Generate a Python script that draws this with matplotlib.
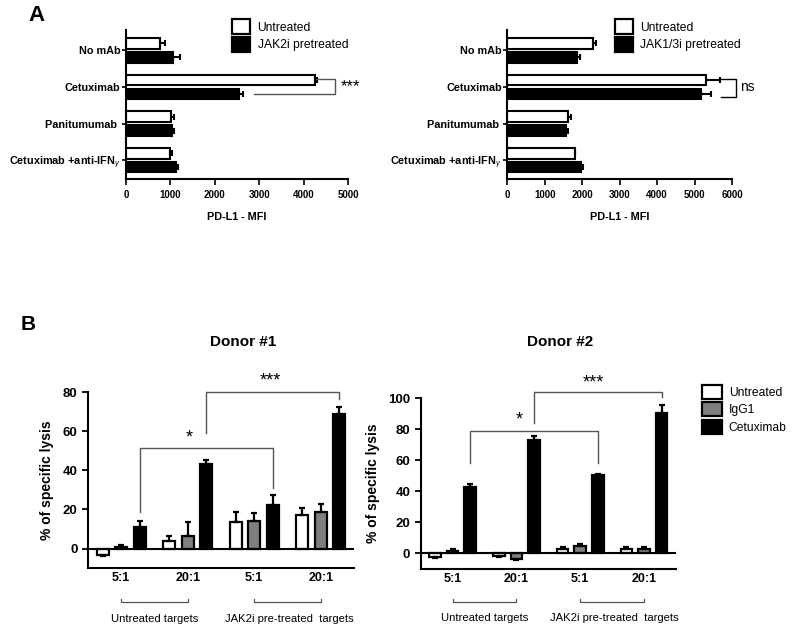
import numpy as np
import matplotlib
matplotlib.use("Agg")
import matplotlib.pyplot as plt
import matplotlib.transforms as mtransforms

plt.rcParams['font.family'] = ['Liberation Sans', 'DejaVu Sans']
plt.rcParams['mathtext.fontset'] = 'custom'
plt.rcParams['mathtext.rm'] = 'Liberation Sans'
plt.rcParams['mathtext.it'] = 'Liberation Sans:italic'
plt.rcParams['mathtext.bf'] = 'Liberation Sans:bold'

# ---- panel A data (PD-L1 MFI) ----
categories_a = ["No mAb", "Cetuximab", "Panitumumab ", r"Cetuximab +anti-IFN$_{\gamma}$"]
a1_untreated = [770, 4250, 1015, 980]
a1_untreated_err = [110, 50, 65, 65]
a1_jak2 = [1050, 2550, 1030, 1120]
a1_jak2_err = [165, 95, 40, 60]
a2_untreated = [2280, 5300, 1630, 1800]
a2_untreated_err = [90, 370, 60, 20]
a2_jak13 = [1850, 5180, 1560, 1960]
a2_jak13_err = [90, 270, 70, 70]

# ---- panel B data (% specific lysis) ----
ratios = ["5:1", "20:1", "5:1", "20:1"]
d1_untreated = [-3.4, 3.7, 13.6, 17.2]
d1_untreated_err = [0.5, 2.6, 5.0, 3.6]
d1_igg1 = [0.9, 6.3, 14.3, 18.6]
d1_igg1_err = [0.8, 7.1, 3.7, 4.2]
d1_cetux = [10.9, 43.4, 22.1, 68.8]
d1_cetux_err = [3.4, 2.0, 5.5, 3.9]
d2_untreated = [-2.2, -1.5, 2.8, 2.6]
d2_untreated_err = [0.6, 0.7, 1.1, 1.3]
d2_igg1 = [1.7, -3.4, 4.7, 2.6]
d2_igg1_err = [1.3, 0.7, 1.3, 1.5]
d2_cetux = [43.0, 73.1, 50.5, 90.8]
d2_cetux_err = [1.9, 2.6, 0.7, 4.9]

BRK = '#555555'

fig = plt.figure(figsize=(8, 6.31), dpi=100)


def one_sided(vals, errs):
    vals = np.asarray(vals, float)
    errs = np.asarray(errs, float)
    lo = np.where(vals < 0, errs, 0)
    hi = np.where(vals >= 0, errs, 0)
    return [lo, hi]


def hbar_panel(rect, v1, e1, v2, e2, xmax, step, lab1, lab2):
    ax = fig.add_axes(rect)
    y = np.arange(len(categories_a))
    ax.barh(y - 0.19, v1, height=0.29, color='white', edgecolor='black', lw=1.5,
            xerr=[np.zeros(4), e1], error_kw=dict(ecolor='black', elinewidth=1.5, capsize=2.2, capthick=1.5))
    ax.barh(y + 0.19, v2, height=0.29, color='black', edgecolor='black', lw=1.5,
            xerr=[np.zeros(4), e2], error_kw=dict(ecolor='black', elinewidth=1.5, capsize=2.2, capthick=1.5))
    ax.set_ylim(3.52, -0.55)
    ax.set_xlim(0, xmax)
    ax.set_yticks(y)
    ax.set_yticklabels(categories_a, fontsize=7.8, fontweight='bold')
    ax.set_xticks(np.arange(0, xmax + 1, step))
    ax.tick_params(axis='x', labelsize=7, length=4, width=1.2)
    ax.tick_params(axis='y', length=3, width=1.2, pad=1)
    for t in ax.get_xticklabels():
        t.set_fontweight('bold')
    for s in ['top', 'right']:
        ax.spines[s].set_visible(False)
    for s in ['left', 'bottom']:
        ax.spines[s].set_linewidth(1.5)
    ax.set_xlabel("PD-L1 - MFI", fontsize=7.8, fontweight='bold', labelpad=9)
    ax.legend([plt.Rectangle((0, 0), 1, 1, fc='white', ec='black', lw=1.6),
               plt.Rectangle((0, 0), 1, 1, fc='black', ec='black', lw=1.6)],
              [lab1, lab2], loc='upper left', bbox_to_anchor=(0.44, 1.13), frameon=False,
              fontsize=8.7, handlelength=1.5, handleheight=1.5, labelspacing=0.22, handletextpad=0.6,
              borderpad=0.2)
    return ax


axA1 = hbar_panel([0.1575, 0.716, 0.2775, 0.236], a1_untreated, a1_untreated_err, a1_jak2, a1_jak2_err,
                  5000, 1000, "Untreated", "JAK2i pretreated")
axA1.plot([4271, 4699, 4699, 2872], [0.78, 0.78, 1.18, 1.18], color=BRK, lw=1, clip_on=False)
axA1.text(4827, 1.0, "***", fontsize=12, va='center', ha='left')

axA2 = hbar_panel([0.634, 0.716, 0.281, 0.236], a2_untreated, a2_untreated_err, a2_jak13, a2_jak13_err,
                  6000, 1000, "Untreated", "JAK1/3i pretreated")
axA2.plot([5716, 6098, 6098, 5716], [0.78, 0.78, 1.27, 1.27], color='black', lw=1, clip_on=False)
axA2.text(6204, 1.0, "ns", fontsize=10, va='center', ha='left')

fig.text(0.046, 0.975, "A", fontsize=16, fontweight='bold', va='center', ha='center')
fig.text(0.035, 0.485, "B", fontsize=15, fontweight='bold', va='center', ha='center')


def vbar_panel(rect, u, ue, g, ge, c, ce, ymax, title, title_x):
    ax = fig.add_axes(rect)
    x = np.arange(4)
    kw = dict(ecolor='black', elinewidth=1.6, capsize=2.2, capthick=1.6)
    ax.bar(x - 0.275, u, width=0.18, color='white', edgecolor='black', lw=1.6,
           yerr=one_sided(u, ue), error_kw=kw)
    ax.bar(x, g, width=0.18, color='#7f7f7f', edgecolor='black', lw=1.6,
           yerr=one_sided(g, ge), error_kw=kw)
    ax.bar(x + 0.275, c, width=0.18, color='black', edgecolor='black', lw=1.6,
           yerr=one_sided(c, ce), error_kw=kw)
    ax.axhline(0, color='black', lw=1.5)
    ax.set_xlim(-0.5, 3.5)
    ax.set_ylim(-10, ymax)
    ax.set_yticks(np.arange(0, ymax + 1, 20))
    ax.set_xticks(x)
    ax.set_xticklabels(ratios, fontsize=9, fontweight='bold')
    ax.tick_params(axis='x', length=0, pad=3)
    ax.tick_params(axis='y', labelsize=9.5, length=4, width=1.3)
    for t in ax.get_yticklabels():
        t.set_fontweight('bold')
    ax.spines['left'].set_bounds(-10, ymax)
    for s in ['top', 'right']:
        ax.spines[s].set_visible(False)
    for s in ['left', 'bottom']:
        ax.spines[s].set_linewidth(1.5)
    ax.set_ylabel("% of specific lysis", fontsize=10, fontweight='bold', labelpad=6)
    # group brackets below axis
    tr = mtransforms.blended_transform_factory(ax.transData, ax.transAxes)
    for x0, x1, lab, xc in [(0, 1, "Untreated targets", 0.5), (2, 3, "JAK2i pre-treated  targets", 2.53)]:
        ax.plot([x0, x0, x1, x1], [-0.175, -0.195, -0.195, -0.175], color=BRK, lw=0.9,
                transform=tr, clip_on=False)
        ax.text(xc, -0.29, lab, transform=tr, fontsize=8.1, ha='center', va='center')
    fig.text(title_x, 0.4585, title, fontsize=11, fontweight='bold', ha='center', va='center')
    return ax


axB1 = vbar_panel([0.11, 0.0998, 0.3325, 0.2784], d1_untreated, d1_untreated_err, d1_igg1, d1_igg1_err,
                  d1_cetux, d1_cetux_err, 80, "Donor #1", 0.304)
axB1.plot([0.275, 0.275, 2.275, 2.275], [18.7, 51.6, 51.6, 31.1], color=BRK, lw=1, clip_on=False)
axB1.text(1.02, 52.5, "*", fontsize=13, ha='center', va='bottom')
axB1.plot([1.275, 1.275, 3.275, 3.275], [59.4, 80.2, 80.2, 76.6], color=BRK, lw=1, clip_on=False)
axB1.text(2.25, 81.5, "***", fontsize=13, ha='center', va='bottom')

axB2 = vbar_panel([0.5259, 0.0986, 0.319, 0.2702], d2_untreated, d2_untreated_err, d2_igg1, d2_igg1_err,
                  d2_cetux, d2_cetux_err, 100, "Donor #2", 0.7)
axB2.plot([0.275, 0.275, 2.275, 2.275], [58.5, 79.1, 79.1, 58.5], color=BRK, lw=1, clip_on=False)
axB2.text(1.05, 80.5, "*", fontsize=13, ha='center', va='bottom')
axB2.plot([1.275, 1.275, 3.275, 3.275], [83.9, 103.9, 103.9, 100.6], color=BRK, lw=1, clip_on=False)
axB2.text(2.2, 104.5, "***", fontsize=13, ha='center', va='bottom')

axB2.legend([plt.Rectangle((0, 0), 1, 1, fc='white', ec='black', lw=1.6),
             plt.Rectangle((0, 0), 1, 1, fc='#7f7f7f', ec='black', lw=1.6),
             plt.Rectangle((0, 0), 1, 1, fc='black', ec='black', lw=1.6)],
            ["Untreated", "IgG1", "Cetuximab"], loc='upper left', bbox_to_anchor=(1.07, 1.13),
            frameon=False, fontsize=8.7, handlelength=1.6, handleheight=1.4, labelspacing=0.3,
            handletextpad=0.6, borderpad=0.2)

fig.savefig("out.png", dpi=100)
